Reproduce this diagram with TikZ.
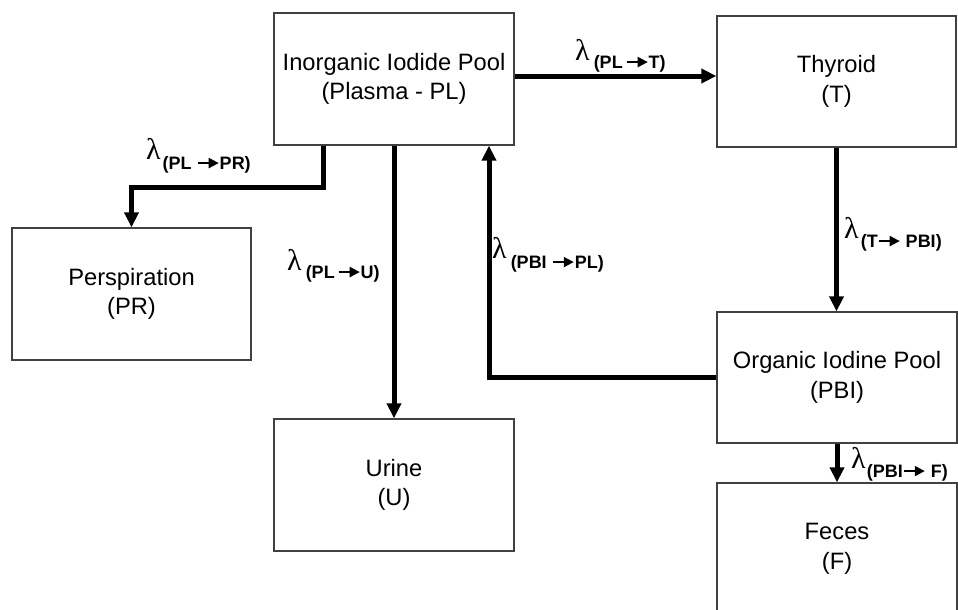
\documentclass[tikz,border=0pt]{standalone}
\usepackage{fontspec}
\setmainfont{Liberation Sans}
\newfontfamily\lamfont{Liberation Serif}
\usetikzlibrary{arrows.meta}
\newcommand{\rarr}{\tikz[baseline=-0.33em]\draw[line width=2pt,-{Triangle[length=10pt,width=10pt]}](0pt,0pt)--(21pt,0pt);}
\newcommand{\lamsym}{{\lamfont\fontsize{30}{30}\selectfont λ}}
\newcommand{\ratefont}{\fontsize{18}{18}\selectfont\bfseries}
\begin{document}
\begin{tikzpicture}[x=1pt,y=-1pt,
  box/.style={draw=black!75,line width=1.3pt,minimum width=240pt,minimum height=132pt,
    align=center,inner sep=0pt,font=\fontsize{23.7}{29.5}\selectfont},
  flow/.style={line width=5pt,-{Triangle[length=15pt,width=14pt]},line join=miter},
  rate/.style={anchor=base west,inner sep=0pt}]
\useasboundingbox (0,0) rectangle (958,610);
\clip (0,0) rectangle (958,610);
% boxes
\node[box] (PL) at (394,79) {Inorganic Iodide Pool\\(Plasma - PL)};
\node[box,minimum width=239pt,minimum height=131pt] (T) at (836.5,81.5) {Thyroid\\(T)};
\node[box,minimum width=239pt] (PR) at (131.5,294) {Perspiration\\(PR)};
\node[box] (U) at (394,485) {Urine\\(U)};
\node[box,minimum height=131pt] (PBI) at (837,377.5) {Organic Iodine Pool\\(PBI)};
\node[box] (F) at (837,549) {Feces\\(F)};
% helper coordinates
\coordinate (yPLT) at (0,76);
\coordinate (xPR) at (323,0);
\coordinate (yPR) at (0,187);
\coordinate (xBack) at (489,0);
% connectors
\draw[flow] (PL.east |- yPLT) -- (T.west |- yPLT);
\draw[flow] (PL.south -| xPR) -- (xPR |- yPR) -| (PR.north);
\draw[flow] (PL.south) -- (U.north);
\draw[flow] (PBI.west) -| (PL.south -| xBack);
\draw[flow] (T.south) -- (T.south |- PBI.north);
\draw[flow] (PBI.south) -- (F.north);
% rate labels
\node[rate] (rPLT) at (575,60) {\lamsym\hspace{4pt}\raisebox{-8pt}{\ratefont (PL\,\rarr T)}};
\node[rate] (rPLPR) at (146,159) {\lamsym\hspace{2pt}\raisebox{-10pt}{\ratefont (PL \rarr PR)}};
\node[rate] (rPLU) at (287,270) {\lamsym\hspace{4pt}\raisebox{-8pt}{\ratefont (PL\,\rarr U)}};
\node[rate] (rPBIPL) at (492,258) {\lamsym\hspace{4pt}\raisebox{-10pt}{\ratefont (PBI \rarr PL)}};
\node[rate] (rTPBI) at (844,238) {\lamsym\hspace{2pt}\raisebox{-9pt}{\ratefont (T\rarr\ PBI)}};
\node[rate] (rPBIF) at (851,468) {\lamsym\hspace{1pt}\raisebox{-9pt}{\ratefont (PBI\rarr\ F)}};
\end{tikzpicture}
\end{document}
